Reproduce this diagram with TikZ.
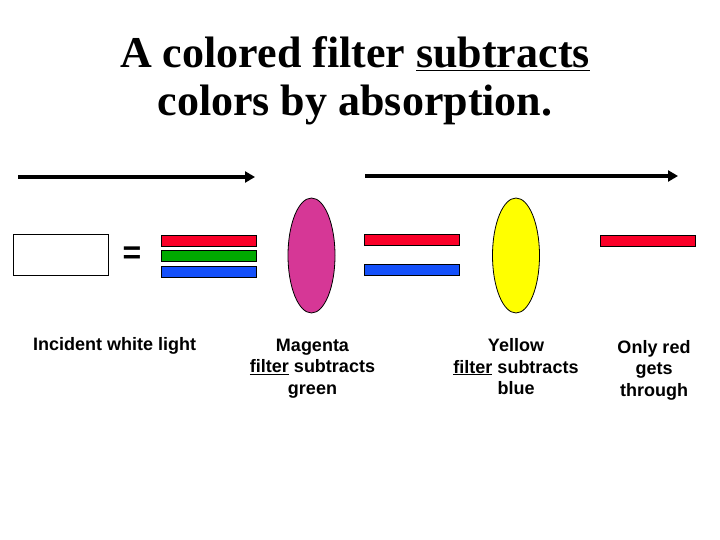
\documentclass[tikz,border=0pt]{standalone}
\usepackage{fontspec}
\setmainfont{Liberation Sans}
\newfontfamily\titleserif{Liberation Serif}
\usetikzlibrary{positioning,arrows.meta,shapes.geometric}

\definecolor{barred}{RGB}{250,0,40}
\definecolor{bargreen}{RGB}{0,170,0}
\definecolor{barblue}{RGB}{20,80,250}
\definecolor{lensmagenta}{RGB}{214,55,150}
\definecolor{lensyellow}{RGB}{255,255,0}

\begin{document}
\begin{tikzpicture}[x=1pt, y=-1pt, bar/.style={rectangle, draw, thin, minimum width=95pt, minimum height=11pt, inner sep=0pt}, lens/.style={ellipse, draw, thick, minimum width=47pt, minimum height=115pt, inner sep=0pt}, lbl/.style={align=center, inner sep=0pt, font=\bfseries\fontsize{18}{21.5}\selectfont}, ray/.style={line width=4pt, -{Triangle[length=10pt,width=11pt]}}]
		\useasboundingbox (0,0) rectangle (720,540);
		\node[align=center, inner sep=0pt, anchor=base, font=\titleserif\bfseries\fontsize{44}{48}\selectfont] (title) at (355,116) {A colored filter \underline{subtracts}\\colors by absorption.};

		\coordinate (r1s) at (18,177);
		\coordinate (r1e) at (255,177);
		\coordinate (r2s) at (365,176);
		\coordinate (r2e) at (678,176);
		\draw[ray] (r1s) -- (r1e);
		\draw[ray] (r2s) -- (r2e);

		\node[rectangle, draw, thin, minimum width=95pt, minimum height=41pt, inner sep=0pt] (white) at (60.5,254.5) {};
		\node[inner sep=0pt, font=\bfseries\fontsize{32}{32}\selectfont] (eq) at (132,255.5) {=};
		\node[bar, fill=barred] (inR) at (208.5,240.5) {};
		\node[bar, fill=bargreen, below=4pt of inR] (inG) {};
		\node[bar, fill=barblue, below=4pt of inG] (inB) {};

		\node[lens, fill=lensmagenta] (magenta) at (311.5,255.5) {};
		\node[bar, fill=barred] (midR) at (411.5,239.5) {};
		\node[bar, fill=barblue, below=19pt of midR] (midB) {};

		\node[lens, fill=lensyellow] (yellow) at (516,255.5) {};
		\node[bar, fill=barred] (outR) at (648,240.5) {};

		\node[lbl, anchor=base west] (whiteL) at (33,350) {Incident white light};
		\node[lbl, anchor=base] (magentaL) at (312.5,394) {Magenta\\\underline{filter} subtracts\\green};
		\node[lbl, anchor=base] (yellowL) at (516,394.5) {Yellow\\\underline{filter} subtracts\\blue};
		\node[lbl, anchor=base] (outL) at (654,396) {Only red\\gets\\through};
	\end{tikzpicture}
\end{document}
